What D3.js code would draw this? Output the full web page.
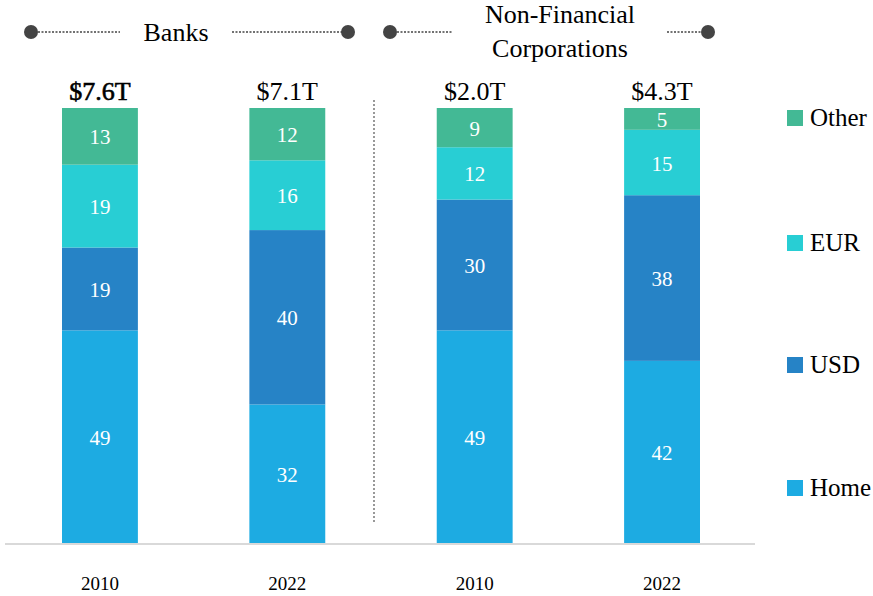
<!DOCTYPE html>
<html><head><meta charset="utf-8">
<script src="https://cdn.jsdelivr.net/npm/d3@7"></script>
<style>body{margin:0;background:#fff}svg{display:block}</style>
</head><body><svg id="c" width="873" height="596"></svg>
<script>
const bars = ["Banks 2010","Banks 2022","NFC 2010","NFC 2022"];
const yearLabels = ["2010","2022","2010","2022"];
const totals = ["$7.6T","$7.1T","$2.0T","$4.3T"];
const seriesNames = ["Home","USD","EUR","Other"];
const home  = [49,32,49,42];
const usd   = [19,40,30,38];
const eur   = [19,16,12,15];
const other = [13,12,9,5];
const colors = {Home:"#1DABE2",USD:"#2683C6",EUR:"#28CED4",Other:"#43B995"};
const FONT = "'Liberation Serif', 'Times New Roman', serif";

const svg = d3.select("#c");
const x = d3.scaleBand().domain(bars).range([62,700]).paddingInner(0.595).paddingOuter(0);
const y = d3.scaleLinear().domain([0,100]).range([544,108]);

const rows = bars.map((b,i)=>({bar:b,Home:home[i],USD:usd[i],EUR:eur[i],Other:other[i]}));
const stack = d3.stack().keys(seriesNames)(rows);

stack.forEach(layer=>{
  const g = svg.append("g");
  g.selectAll("rect").data(layer).join("rect")
    .attr("x",d=>x(d.data.bar)).attr("width",x.bandwidth())
    .attr("y",d=>y(d[1])).attr("height",d=>y(d[0])-y(d[1]))
    .attr("fill",colors[layer.key]);
  g.selectAll("text").data(layer).join("text")
    .attr("x",d=>x(d.data.bar)+x.bandwidth()/2)
    .attr("y",d=>(y(d[0])+y(d[1]))/2+8)
    .attr("text-anchor","middle").attr("fill","#fff")
    .style("font-family",FONT).style("font-size","21px")
    .text(d=>d[1]-d[0]);
});

// axis baseline
svg.append("line").attr("x1",5).attr("x2",755).attr("y1",544).attr("y2",544)
  .attr("stroke","#d9d9d9").attr("stroke-width",2);

// x labels
const xa = svg.append("g").attr("transform","translate(0,590)")
  .call(d3.axisBottom(x).tickSize(0).tickFormat((d,i)=>yearLabels[i]));
xa.select(".domain").remove();
xa.selectAll("text").attr("fill","#000").attr("dy",0).attr("y",0)
  .style("font-family",FONT).style("font-size","19px");

// totals
svg.selectAll(".tot").data(bars).join("text").attr("class","tot")
  .attr("x",d=>x(d)+x.bandwidth()/2).attr("y",100)
  .attr("text-anchor","middle").attr("fill","#000")
  .attr("stroke",(d,i)=>i===0?"#000":"none").attr("stroke-width",0.6)
  .style("font-family",FONT).style("font-size","26px")
  .text((d,i)=>totals[i]);

// separator
svg.append("line").attr("x1",374).attr("x2",374).attr("y1",100).attr("y2",524)
  .attr("stroke","#555").attr("stroke-width",1.2).attr("stroke-dasharray","2,2");

// group headers
function bracket(xa,xb,y0,gapL,gapR){
  svg.append("circle").attr("cx",xa).attr("cy",y0).attr("r",7).attr("fill","#444");
  svg.append("circle").attr("cx",xb).attr("cy",y0).attr("r",7).attr("fill","#444");
  svg.append("line").attr("x1",xa).attr("x2",gapL).attr("y1",y0).attr("y2",y0)
    .attr("stroke","#444").attr("stroke-width",1.3).attr("stroke-dasharray","2,1.5");
  svg.append("line").attr("x1",gapR).attr("x2",xb).attr("y1",y0).attr("y2",y0)
    .attr("stroke","#444").attr("stroke-width",1.3).attr("stroke-dasharray","2,1.5");
}
function head(xc,yb,t){
  svg.append("text").attr("x",xc).attr("y",yb).attr("text-anchor","middle")
    .style("font-family",FONT).style("font-size","26px").attr("fill","#000").text(t);
}
bracket(31,348,32,120,232);
head(176,41,"Banks");
bracket(390,708,32,452,667);
head(560,23,"Non-Financial");
head(560,57,"Corporations");

// legend
const legendY = {Other:118,EUR:243,USD:365,Home:488};
const lg = svg.selectAll(".lg").data(["Other","EUR","USD","Home"]).join("g").attr("class","lg")
  .attr("transform",d=>`translate(787,${legendY[d]})`);
lg.append("rect").attr("x",0).attr("y",-8).attr("width",16).attr("height",16).attr("fill",d=>colors[d]);
lg.append("text").attr("x",23).attr("y",8).attr("fill","#000")
  .style("font-family",FONT).style("font-size","25px").text(d=>d);
</script></body></html>
